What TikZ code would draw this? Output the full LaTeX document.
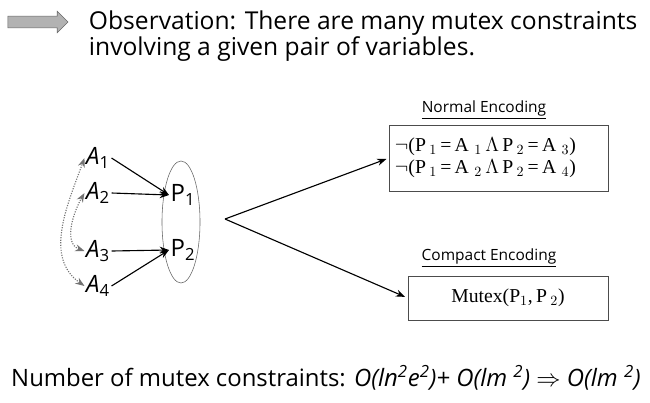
\documentclass[tikz,border=0pt]{standalone}
\usepackage{fontspec}
\setmainfont{Open Sans}
\newfontfamily\serifbox{Liberation Serif}
\usetikzlibrary{positioning, arrows.meta, shapes.arrows, shapes.geometric}

\begin{document}
\begin{tikzpicture}[
		x=0.025cm, y=-0.025cm,
		>=Stealth,
		var/.style={inner sep=1pt, font=\fontsize{17}{19}\selectfont},
		encbox/.style={draw=black!70, rectangle, inner sep=4pt, font=\serifbox\fontsize{14}{15.5}\selectfont, align=left},
		enclabel/.style={font=\fontsize{11}{12}\selectfont},
		swap/.style={<->, densely dotted, draw=black!55, thick},
		link/.style={->, thick}
		]
		\useasboundingbox (0,0) rectangle (650,402);
		
		% --- OBSERVATION ---
		\node[single arrow, draw=black!60, fill=black!30, minimum height=1.5cm, inner sep=0.14cm, single arrow head extend=0.12cm] (obsarrow) at (35,22) {};
		\node[anchor=west, align=left, font=\fontsize{17.5}{19}\selectfont] (obs) at (84,36) {Observation: There are many mutex constraints\\involving a given pair of variables.};
		
		% --- VARIABLES ---
		\node[var] (A1) at (98,158) {\textit{A}\textsubscript{1}};
		\node[var] (A2) at (98,193) {\textit{A}\textsubscript{2}};
		\node[var] (A3) at (98,251) {\textit{A}\textsubscript{3}};
		\node[var] (A4) at (98,286) {\textit{A}\textsubscript{4}};
		
		\node[draw=black!60, ellipse, minimum width=0.95cm, minimum height=3.05cm] (pair) at (181,222) {};
		\node[var] (P1) at (183,195) {P\textsubscript{1}};
		\node[var] (P2) at (183,250) {P\textsubscript{2}};
		
		\draw[link] (A1.east) -- (P1.west);
		\draw[link] (A2.east) -- (P1.west);
		\draw[link] (A3.east) -- (P2.west);
		\draw[link] (A4.east) -- (P2.west);
		
		% dotted links between values
		\draw[swap] (A4.west) to[out=145, in=250] (A1.west);
		\draw[swap] (A3.west) to[out=160, in=240] (A2.west);
		
		% --- ENCODINGS ---
		\node[encbox, text width=5.2cm, minimum height=1.65cm] (normal) at (499,158) {$\neg$(P\,$_1$\,=\,A\;$_1$\,$\Lambda$\,P\,$_2$\,=\,A\;$_3$)\\$\neg$(P\,$_1$\,=\,A\;$_2$\,$\Lambda$\,P\,$_2$\,=\,A\;$_4$)};
		\node[enclabel] (normlabel) at (484,110) {\underline{Normal Encoding}};
		
		\node[encbox, minimum width=5.0cm, minimum height=1.1cm, align=center] (compact) at (508,298) {Mutex(P$_1$,\,P\,$_2$)};
		\node[enclabel] (complabel) at (489,258) {\underline{Compact Encoding}};
		
		\coordinate (split) at (225,219);
		\draw[link, shorten >=2pt] (split) -- (normal.west);
		\draw[link, shorten >=2pt] (split) -- (compact.west);
		
		% --- COUNT ---
		\node[font=\fontsize{17}{18}\selectfont] (count) at (326,378) {Number of mutex constraints: \textit{O(ln\textsuperscript{2}e\textsuperscript{2})+ O(lm \textsuperscript{2})} $\Rightarrow$ \textit{O(lm \textsuperscript{2})}};
		
	\end{tikzpicture}
\end{document}
